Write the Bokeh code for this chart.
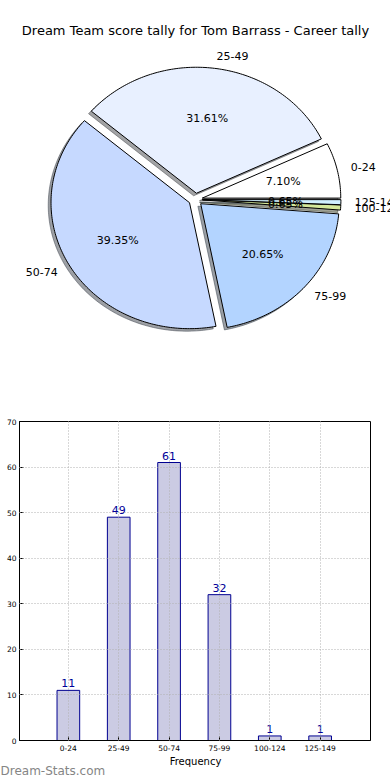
import numpy as np
from bokeh.plotting import figure
from bokeh.models import Range1d, FixedTicker, ColumnDataSource
from bokeh.embed import file_html
from bokeh.resources import INLINE
from bokeh.core.properties import value

# ---------------- data ----------------
categories = ["0-24", "25-49", "50-74", "75-99", "100-124", "125-149"]
counts = [11, 49, 61, 32, 1, 1]
pie_colors = ["#ffffff", "#e8f0ff", "#c6d9ff", "#b3d4ff", "#d4e89a", "#d0f0ff"]
explode = [0.05, 0.05, 0.05, 0.05, 0.05, 0.05]
title_text = "Dream Team score tally for Tom Barrass - Career tally"
x_axis_label = "Frequency"
y_ticks = [0, 10, 20, 30, 40, 50, 60, 70]
watermark = "Dream-Stats.com"

FONT = "DejaVu Sans"
W = 390
H1 = 410
H2 = 346
H3 = 24
RX, RY = 138.5, 126.0          # pie radii in px (elliptical, as in the source)
CX, CY = 195.0, 199.0          # pie centre in figure px (from top-left)

# ---------------- pie ----------------
p1 = figure(width=W, height=H1, output_backend="svg", toolbar_location=None,
            min_border=0, title=None, x_axis_location=None, y_axis_location=None,
            x_range=Range1d(-CX / RX, (W - CX) / RX),
            y_range=Range1d(-(H1 - CY) / RY, CY / RY))
p1.grid.visible = False
p1.outline_line_color = None
p1.background_fill_color = "white"

total = float(sum(counts))
fr = np.array(counts, dtype=float) / total
edges = np.concatenate([[0.0], np.cumsum(fr)]) * 2 * np.pi

wxs, wys, sxs, sys_, shcols = [], [], [], [], []
lab_l = dict(x=[], y=[], text=[])
lab_r = dict(x=[], y=[], text=[])
pct = dict(x=[], y=[], text=[])
for i in range(len(counts)):
    t1, t2 = edges[i], edges[i + 1]
    tm = 0.5 * (t1 + t2)
    ox, oy = explode[i] * np.cos(tm), explode[i] * np.sin(tm)
    n = max(3, int(np.degrees(t2 - t1)) + 2)
    th = np.linspace(t1, t2, n)
    xs = np.concatenate([[ox], ox + np.cos(th), [ox]])
    ys = np.concatenate([[oy], oy + np.sin(th), [oy]])
    wxs.append(list(xs)); wys.append(list(ys))
    sxs.append(list(xs - 0.02)); sys_.append(list(ys - 0.02))
    h = pie_colors[i].lstrip("#")
    r, g, b = (int(h[k:k + 2], 16) for k in (0, 2, 4))
    shcols.append("#%02x%02x%02x" % (int(0.3 * r), int(0.3 * g), int(0.3 * b)))
    lx, ly = ox + 1.1 * np.cos(tm), oy + 1.1 * np.sin(tm)
    d = lab_l if lx > 0 else lab_r
    d["x"].append(lx); d["y"].append(ly); d["text"].append(categories[i])
    pct["x"].append(ox + 0.6 * np.cos(tm)); pct["y"].append(oy + 0.6 * np.sin(tm))
    pct["text"].append("%.2f%%" % (fr[i] * 100))

p1.patches(xs=sxs, ys=sys_, fill_color=shcols, fill_alpha=0.5,
           line_color=shcols, line_alpha=0.5, line_width=1)
p1.patches(xs=wxs, ys=wys, fill_color=pie_colors, line_color="black", line_width=1)

for d, al in ((lab_l, "left"), (lab_r, "right")):
    p1.text(x="x", y="y", text="text", source=ColumnDataSource(d),
            text_align=al, text_baseline="middle", text_font=value(FONT),
            text_font_size="11px", text_color="black")
p1.text(x="x", y="y", text="text", source=ColumnDataSource(pct),
        text_align="center", text_baseline="middle", text_font=value(FONT),
        text_font_size="11px", text_color="black")

# title, placed in the pie's data space
p1.text(x=[(195 - CX) / RX], y=[(CY - 30) / RY], text=[title_text],
        text_align="center", text_baseline="middle", text_font=value(FONT),
        text_font_size="13px", text_color="black")

# ---------------- bars ----------------
positions = list(range(len(categories)))
p2 = figure(width=W, height=H2, output_backend="svg", toolbar_location=None,
            title=None, x_range=Range1d(-0.97, 6.0), y_range=Range1d(0, 70),
            min_border_left=19, min_border_right=20, min_border_top=11,
            min_border_bottom=16)
p2.background_fill_color = "white"
p2.outline_line_color = "black"
p2.outline_line_width = 1

p2.vbar(x=positions, top=counts, width=0.45, fill_color="#cbcbe3",
        line_color="#000090", line_width=1)
p2.text(x=positions, y=counts, text=[str(c) for c in counts],
        text_align="center", text_baseline="alphabetic", y_offset=-7,
        text_font=value(FONT), text_font_size="11px", text_color="#000099")

p2.xaxis.ticker = FixedTicker(ticks=positions)
p2.xaxis.major_label_overrides = {i: c for i, c in zip(positions, categories)}
p2.yaxis.ticker = FixedTicker(ticks=y_ticks)
for ax in (p2.xaxis, p2.yaxis):
    ax.major_tick_in = 4
    ax.major_tick_out = 0
    ax.minor_tick_line_color = None
    ax.axis_line_color = "black"
    ax.major_tick_line_color = "black"
    ax.major_label_text_font = FONT
    ax.major_label_text_font_size = "7.5px"
    ax.major_label_text_color = "black"
p2.xaxis.major_label_standoff = 4
p2.yaxis.major_label_standoff = 3

p2.xgrid.ticker = FixedTicker(ticks=positions)
p2.ygrid.ticker = FixedTicker(ticks=y_ticks)
for gr in (p2.xgrid, p2.ygrid):
    gr.grid_line_color = "#b0b0b0"
    gr.grid_line_dash = "1 2"
    gr.grid_line_width = 1
    gr.level = "annotation"

# ---------------- x-axis title + watermark strip ----------------
p3 = figure(width=W, height=H3, output_backend="svg", toolbar_location=None,
            min_border=0, title=None, x_axis_location=None, y_axis_location=None,
            x_range=Range1d(0, W), y_range=Range1d(0, H3))
p3.grid.visible = False
p3.outline_line_color = None
p3.text(x=[195], y=[H3 - 5], text=[x_axis_label], text_align="center",
        text_baseline="middle", text_font=value(FONT), text_font_size="10px",
        text_color="black")
p3.text(x=[0], y=[H3 - 14], text=[watermark], text_align="left",
        text_baseline="middle", text_font=value(FONT), text_font_size="12px",
        text_font_style="normal", text_color="#858585")

open("out.html", "w").write(file_html([p1, p2, p3], INLINE))
